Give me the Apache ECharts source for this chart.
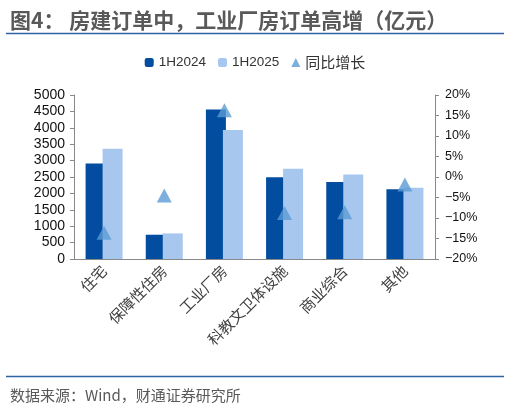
<!DOCTYPE html>
<html>
<head>
<meta charset="utf-8">
<script src="https://cdn.jsdelivr.net/npm/echarts@6/dist/echarts.min.js"></script>
<style>
    html, body { margin: 0; padding: 0; background: #fff; }
    #chart { width: 510px; height: 407px; }
</style>
</head>
<body>
<div id="chart"></div>
<script>
const categories = ['住宅', '保障性住房', '工业厂房', '科教文卫体设施', '商业综合', '其他'];
const orders2024 = [2910, 740, 4560, 2490, 2350, 2130];
const orders2025 = [3360, 780, 3930, 2750, 2580, 2170];
const yoyGrowth = [-13.6, -4.5, 16.3, -8.8, -8.6, -1.8];
const seriesNames = ['1H2024', '1H2025', '同比增长'];

const chart = echarts.init(document.getElementById('chart'));
const lineColor = '#2f62a3';
const axisColor = '#898989';

const option = {
    animation: false,
    title: [
        {
            text: '图4： 房建订单中，工业厂房订单高增（亿元）',
            left: 5,
            top: 5,
            textStyle: { color: '#595959', fontSize: 21, fontWeight: 'bold', fontFamily: 'Noto Sans CJK SC' }
        },
        {
            text: '数据来源：Wind，财通证券研究所',
            left: 5,
            top: 383,
            textStyle: { color: '#595959', fontSize: 15, fontWeight: 'normal', fontFamily: 'Noto Sans CJK SC' }
        }
    ],
    graphic: [
        { type: 'line', shape: { x1: 6, y1: 33.5, x2: 504, y2: 33.5 }, style: { stroke: lineColor, lineWidth: 1.5 } },
        { type: 'line', shape: { x1: 6, y1: 376.5, x2: 504, y2: 376.5 }, style: { stroke: lineColor, lineWidth: 1.5 } }
    ],
    legend: {
        data: seriesNames,
        left: 'center',
        top: 50,
        itemWidth: 9,
        itemHeight: 9,
        itemGap: 12,
        formatter: name => (name === '同比增长' ? '{c|' + name + '}' : '{l|' + name + '}'),
        textStyle: {
            color: '#333',
            rich: {
                l: { fontSize: 13.5, fontFamily: 'Liberation Sans', color: '#333' },
                c: { fontSize: 15, fontFamily: 'Noto Sans CJK SC', color: '#333' }
            }
        }
    },
    grid: { left: 74, right: 75, top: 95, bottom: 148 },
    xAxis: {
        type: 'category',
        data: categories,
        axisLine: { lineStyle: { color: axisColor } },
        axisTick: { length: 5, lineStyle: { color: axisColor } },
        axisLabel: {
            interval: 0,
            rotate: 45,
            margin: 9,
            color: '#404040',
            fontSize: 15,
            fontFamily: 'Noto Sans CJK SC'
        }
    },
    yAxis: [
        {
            type: 'value',
            min: 0,
            max: 5000,
            interval: 500,
            axisLine: { show: true, lineStyle: { color: axisColor } },
            axisTick: { show: true, length: 4, lineStyle: { color: axisColor } },
            axisLabel: {
                color: '#111',
                fontSize: 14,
                fontFamily: 'Liberation Sans',
                margin: 9,
                formatter: v => String(v)
            },
            splitLine: { show: false }
        },
        {
            type: 'value',
            min: -20,
            max: 20,
            interval: 5,
            axisLine: { show: true, lineStyle: { color: axisColor } },
            axisTick: { show: true, length: 4, lineStyle: { color: axisColor } },
            axisLabel: {
                color: '#111',
                fontSize: 12.5,
                fontFamily: 'Liberation Sans',
                margin: 10,
                formatter: v => (v < 0 ? '\u2212' + Math.abs(v) : v) + '%'
            },
            splitLine: { show: false }
        }
    ],
    series: [
        {
            name: seriesNames[0],
            type: 'bar',
            barWidth: 20,
            barGap: '-15%',
            itemStyle: { color: '#024da0' },
            data: orders2024
        },
        {
            name: seriesNames[1],
            type: 'bar',
            barWidth: 20,
            itemStyle: { color: '#a8c7ef' },
            data: orders2025
        },
        {
            name: seriesNames[2],
            type: 'scatter',
            yAxisIndex: 1,
            symbol: 'triangle',
            symbolSize: [15, 14],
            itemStyle: { color: '#5b9bd5' },
            z: 5,
            data: yoyGrowth
        }
    ]
};

chart.setOption(option);
</script>
</body>
</html>
